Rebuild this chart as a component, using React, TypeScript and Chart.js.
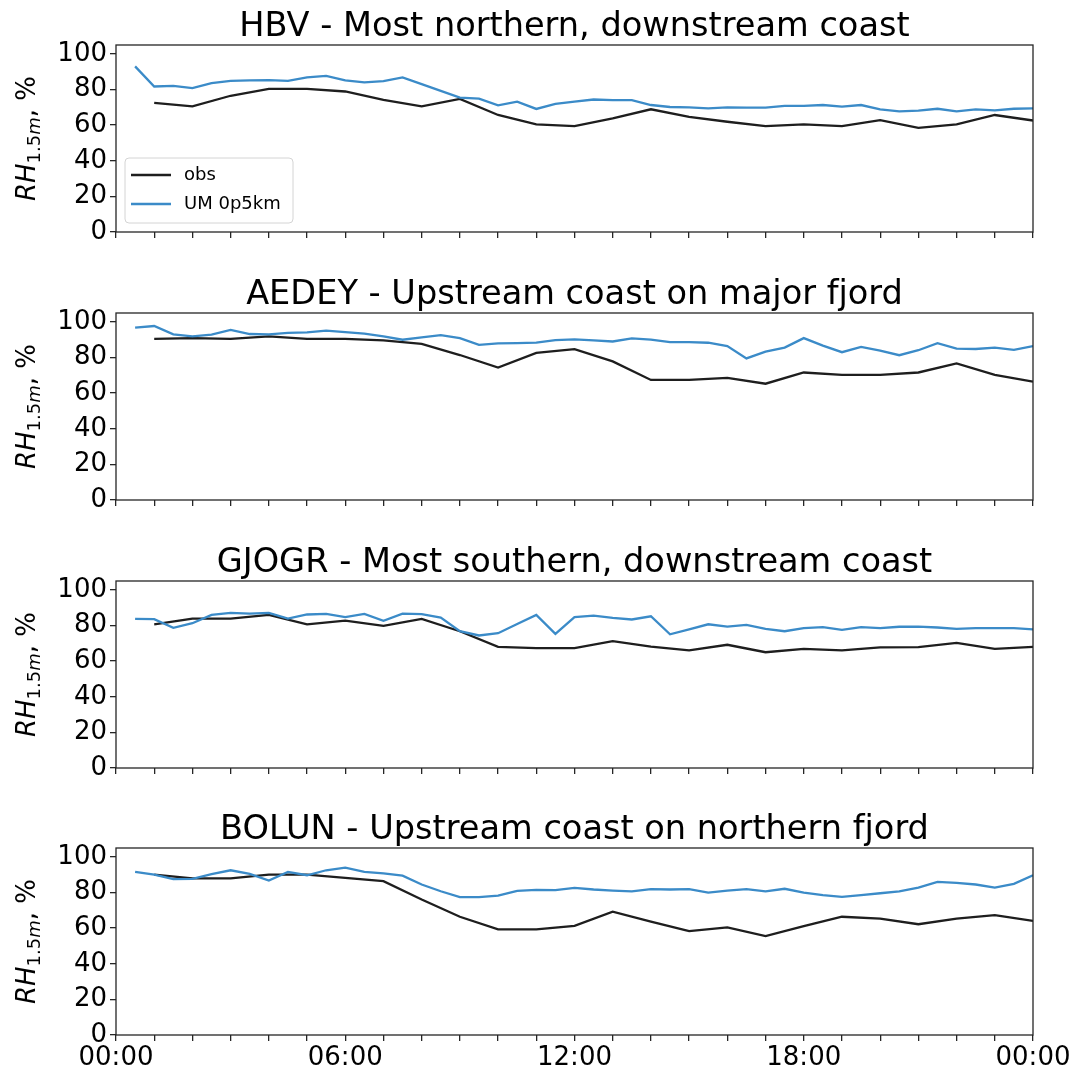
import React, { useEffect, useRef } from "react";
import { Chart, registerables } from "chart.js";

Chart.register(...registerables);

// ---- time axes (hours since 00:00) ----
const obsHours = [1, 2, 3, 4, 5, 6, 7, 8, 9, 10, 11, 12, 13, 14, 15, 16, 17, 18, 19, 20, 21, 22, 23, 24];
const umHours = [
  0.5, 1, 1.5, 2, 2.5, 3, 3.5, 4, 4.5, 5, 5.5, 6, 6.5, 7, 7.5, 8, 8.5, 9, 9.5, 10, 10.5, 11, 11.5, 12,
  12.5, 13, 13.5, 14, 14.5, 15, 15.5, 16, 16.5, 17, 17.5, 18, 18.5, 19, 19.5, 20, 20.5, 21, 21.5, 22, 22.5, 23, 23.5, 24,
];
const xTickLabels = ["00:00", "06:00", "12:00", "18:00", "00:00"];
const yTickValues = [0, 20, 40, 60, 80, 100];

const stationTitles = [
  "HBV - Most northern, downstream coast",
  "AEDEY - Upstream coast on major fjord",
  "GJOGR - Most southern, downstream coast",
  "BOLUN - Upstream coast on northern fjord",
];
const seriesLabels = ["obs", "UM 0p5km"];

// ---- HBV ----
const hbvObs = [72.5, 70.5, 76.5, 80.4, 80.4, 78.9, 74.2, 70.6, 74.7, 65.7, 60.4, 59.4, 63.8, 68.9, 64.7, 61.9, 59.4, 60.4, 59.4, 62.8, 58.5, 60.4, 65.7, 62.6];
const hbvUm = [
  93.0, 81.7, 82.1, 80.8, 83.6, 84.9, 85.1, 85.3, 84.9, 86.8, 87.7, 85.1, 84.0, 84.7, 86.8, 83.0, 79.2, 75.5, 74.9, 71.1, 73.2, 69.1, 71.9, 73.2,
  74.4, 74.0, 74.0, 71.3, 70.2, 70.0, 69.4, 70.0, 69.8, 69.8, 70.8, 70.8, 71.3, 70.4, 71.3, 68.9, 67.7, 68.1, 69.2, 67.7, 68.9, 68.3, 69.2, 69.4,
];

// ---- AEDEY ----
const aedeyObs = [90.5, 90.9, 90.5, 91.9, 90.5, 90.5, 89.6, 87.7, 81.4, 74.4, 82.6, 84.7, 77.8, 67.4, 67.4, 68.6, 65.3, 71.6, 70.3, 70.3, 71.6, 76.7, 70.3, 66.5];
const aedeyUm = [
  96.8, 97.7, 93.0, 91.9, 92.8, 95.5, 93.2, 93.0, 93.8, 94.1, 95.1, 94.3, 93.4, 91.9, 90.0, 91.3, 92.6, 90.9, 87.1, 87.9, 88.1, 88.4, 89.8, 90.2,
  89.6, 89.0, 90.7, 90.0, 88.6, 88.6, 88.3, 86.4, 79.5, 83.3, 85.6, 90.9, 86.7, 83.0, 86.0, 83.9, 81.3, 84.1, 88.1, 85.0, 84.8, 85.6, 84.3, 86.4,
];

// ---- GJOGR ----
const gjogrObs = [80.6, 83.9, 83.9, 86.0, 80.7, 82.8, 79.8, 83.7, 76.8, 68.0, 67.3, 67.3, 71.2, 68.2, 66.0, 69.2, 65.0, 66.9, 66.0, 67.7, 67.9, 70.3, 66.9, 68.0];
const gjogrUm = [
  83.7, 83.6, 78.7, 81.3, 86.0, 87.1, 86.7, 87.1, 83.9, 86.2, 86.5, 84.7, 86.5, 82.6, 86.7, 86.4, 84.5, 76.8, 74.4, 75.7, 80.9, 86.0, 75.3, 84.7,
  85.6, 84.3, 83.4, 85.2, 75.1, 77.8, 80.7, 79.4, 80.4, 78.1, 76.8, 78.5, 79.1, 77.6, 79.1, 78.5, 79.3, 79.4, 78.9, 78.1, 78.5, 78.5, 78.5, 77.8,
];

// ---- BOLUN ----
const bolunObs = [90.1, 87.9, 87.9, 90.1, 90.1, 88.2, 86.4, 76.1, 66.4, 59.3, 59.3, 61.3, 69.2, 63.6, 58.3, 60.4, 55.5, 61.1, 66.4, 65.4, 62.2, 65.4, 67.3, 64.1];
const bolunUm = [
  91.6, 90.1, 87.5, 87.7, 90.3, 92.5, 90.5, 86.7, 91.6, 89.7, 92.5, 94.0, 91.6, 90.7, 89.5, 84.5, 80.7, 77.4, 77.4, 78.3, 80.9, 81.5, 81.3, 82.6,
  81.7, 81.1, 80.7, 81.9, 81.7, 81.9, 80.0, 81.1, 81.9, 80.7, 82.1, 80.0, 78.5, 77.6, 78.5, 79.6, 80.7, 82.8, 86.0, 85.4, 84.5, 82.8, 84.9, 89.7,
];

const FONT = "'DejaVu Sans', 'Liberation Sans', sans-serif";
const OBS_COLOR = "#1e1e1e";
const UM_COLOR = "#3b8bc8";
const AXIS_COLOR = "#262626";

type PanelProps = {
  title: string;
  obs: number[];
  um: number[];
  showLegend: boolean;
  showXLabels: boolean;
  top: number;
  height: number;
};

function Panel({ title, obs, um, showLegend, showXLabels, top, height }: PanelProps) {
  const ref = useRef<HTMLCanvasElement>(null);

  useEffect(() => {
    const canvas = ref.current;
    if (!canvas) return;
    const plotTop = 45;
    const plotHeight = 187;
    const xAxisHeight = height - plotTop - plotHeight;

    const decor = {
      id: "decor",
      afterDatasetsDraw(chart: any) {
        const { ctx, chartArea } = chart;
        const { left, top: t, right, bottom } = chartArea;
        ctx.save();
        ctx.strokeStyle = AXIS_COLOR;
        ctx.lineWidth = 1.3;
        ctx.strokeRect(left, t, right - left, bottom - t);
        ctx.restore();
      },
      afterDraw(chart: any) {
        const { ctx, chartArea } = chart;
        const { left, top: t, right, bottom } = chartArea;
        ctx.save();
        // title
        ctx.fillStyle = "#000";
        ctx.font = `33.6px ${FONT}`;
        ctx.textAlign = "center";
        ctx.textBaseline = "alphabetic";
        ctx.fillText(title, (left + right) / 2, t - 9);

        // y-axis label: RH_{1.5m}, %
        ctx.translate(35, (t + bottom) / 2);
        ctx.rotate(-Math.PI / 2);
        ctx.textAlign = "left";
        const parts = [
          { text: "RH", font: `italic 26px ${FONT}`, dy: 0 },
          { text: "1.5", font: `18px ${FONT}`, dy: 5 },
          { text: "m", font: `italic 18px ${FONT}`, dy: 5 },
          { text: ", %", font: `26px ${FONT}`, dy: 0 },
        ];
        let total = 0;
        const widths = parts.map((p) => {
          ctx.font = p.font;
          const w = ctx.measureText(p.text).width;
          total += w;
          return w;
        });
        let x = -total / 2;
        parts.forEach((p, i) => {
          ctx.font = p.font;
          ctx.fillText(p.text, x, p.dy);
          x += widths[i];
        });
        ctx.restore();

        if (showLegend) {
          ctx.save();
          const bx = left + 9;
          const by = t + 113;
          const bw = 168;
          const bh = 65;
          ctx.beginPath();
          ctx.roundRect(bx, by, bw, bh, 4);
          ctx.fillStyle = "rgba(255,255,255,0.8)";
          ctx.fill();
          ctx.strokeStyle = "#d4d4d4";
          ctx.lineWidth = 1;
          ctx.stroke();
          const rows = [
            { label: seriesLabels[0], color: OBS_COLOR, y: by + 17 },
            { label: seriesLabels[1], color: UM_COLOR, y: by + 46 },
          ];
          ctx.font = `18px ${FONT}`;
          ctx.textBaseline = "middle";
          ctx.textAlign = "left";
          rows.forEach((r) => {
            ctx.strokeStyle = r.color;
            ctx.lineWidth = 2.3;
            ctx.beginPath();
            ctx.moveTo(bx + 6, r.y);
            ctx.lineTo(bx + 46, r.y);
            ctx.stroke();
            ctx.fillStyle = "#000";
            ctx.fillText(r.label, bx + 59, r.y);
          });
          ctx.restore();
        }
      },
    };

    const chart = new Chart(canvas, {
      type: "line",
      data: {
        datasets: [
          {
            label: seriesLabels[0],
            data: obsHours.map((h, i) => ({ x: h, y: obs[i] })),
            borderColor: OBS_COLOR,
            backgroundColor: OBS_COLOR,
            borderWidth: 2.3,
            pointRadius: 0,
            tension: 0,
            order: 2,
          },
          {
            label: seriesLabels[1],
            data: umHours.map((h, i) => ({ x: h, y: um[i] })),
            borderColor: UM_COLOR,
            backgroundColor: UM_COLOR,
            borderWidth: 2.3,
            pointRadius: 0,
            tension: 0,
            order: 1,
          },
        ],
      },
      options: {
        responsive: false,
        animation: false,
        events: [],
        layout: { padding: { top: plotTop, right: 45, left: 0, bottom: 0 } },
        plugins: {
          legend: { display: false },
          tooltip: { enabled: false },
          title: { display: false },
        },
        scales: {
          x: {
            type: "linear",
            min: 0,
            max: 24,
            border: { display: false },
            grid: {
              drawOnChartArea: false,
              drawTicks: true,
              tickLength: 6,
              color: AXIS_COLOR,
              lineWidth: 1.3,
            },
            ticks: {
              stepSize: 1,
              autoSkip: false,
              maxRotation: 0,
              minRotation: 0,
              padding: 2,
              color: "#000",
              font: { family: FONT, size: 26 },
              callback: (v: any) => {
                const n = Number(v);
                if (!showXLabels || n % 6 !== 0) return "";
                return xTickLabels[n / 6];
              },
            },
            afterFit: (s: any) => {
              s.height = xAxisHeight;
            },
          },
          y: {
            type: "linear",
            min: 0,
            max: 105,
            border: { display: false },
            grid: {
              drawOnChartArea: false,
              drawTicks: true,
              tickLength: 6,
              color: AXIS_COLOR,
              lineWidth: 1.3,
            },
            ticks: {
              stepSize: 20,
              padding: 3,
              color: "#000",
              font: { family: FONT, size: 26 },
            },
            afterBuildTicks: (s: any) => {
              s.ticks = yTickValues.map((v) => ({ value: v }));
            },
            afterFit: (s: any) => {
              s.width = 116;
            },
          },
        },
      },
      plugins: [decor],
    } as any);

    return () => chart.destroy();
  }, [title, obs, um, showLegend, showXLabels, height]);

  return (
    <canvas
      ref={ref}
      width={1078}
      height={height}
      style={{ position: "absolute", left: 0, top, width: 1078, height }}
    />
  );
}

export default function App() {
  const panels = [
    { obs: hbvObs, um: hbvUm },
    { obs: aedeyObs, um: aedeyUm },
    { obs: gjogrObs, um: gjogrUm },
    { obs: bolunObs, um: bolunUm },
  ];
  const tops = [0, 268, 536, 803];
  const heights = [268, 268, 267, 269];
  return (
    <div style={{ position: "absolute", left: 0, top: 0, width: 1078, height: 1072, background: "#fff" }}>
      {panels.map((p, i) => (
        <Panel
          key={i}
          title={stationTitles[i]}
          obs={p.obs}
          um={p.um}
          showLegend={i === 0}
          showXLabels={i === 3}
          top={tops[i]}
          height={heights[i]}
        />
      ))}
    </div>
  );
}
